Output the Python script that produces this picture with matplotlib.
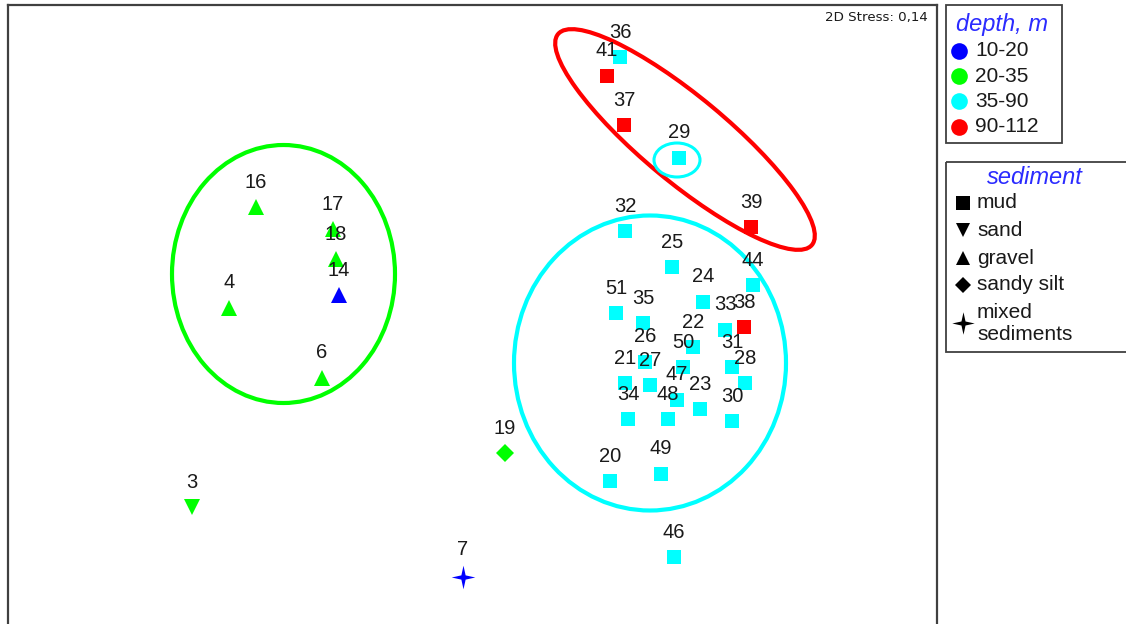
import numpy as np
import matplotlib
matplotlib.use("Agg")
import matplotlib.pyplot as plt
from matplotlib.patches import Ellipse, Rectangle
from matplotlib.path import Path

# ---------------- data (ordination coordinates) ----------------
sample_ids = ["3", "4", "6", "7", "14", "16", "17", "18", "19", "20", "21", "22", "23",
              "24", "25", "26", "27", "28", "29", "30", "31", "32", "33", "34", "35",
              "36", "37", "38", "39", "41", "44", "46", "47", "48", "49", "50", "51"]
axis1 = [192, 229, 322, 463, 339, 256, 333, 336, 505, 610, 625, 693, 700,
         703, 672, 645, 650, 745, 679, 732, 732, 625, 725, 628, 643,
         620, 624, 744, 751, 607, 753, 674, 677, 668, 661, 683, 616]
axis2 = [507, 308, 378, 577, 295, 207, 229, 259, 453, 481, 383, 347, 409,
         302, 267, 362, 385, 383, 158, 421, 367, 231, 330, 419, 323,
         57, 125, 327, 227, 76, 285, 557, 400, 419, 474, 367, 313]
depth = ["20-35", "20-35", "20-35", "10-20", "10-20", "20-35", "20-35", "20-35", "20-35",
         "35-90", "35-90", "35-90", "35-90", "35-90", "35-90", "35-90", "35-90", "35-90",
         "35-90", "35-90", "35-90", "35-90", "35-90", "35-90", "35-90", "35-90",
         "90-112", "90-112", "90-112", "90-112", "35-90", "35-90", "35-90", "35-90",
         "35-90", "35-90", "35-90"]
sediment = ["sand", "gravel", "gravel", "mixed sediments", "gravel", "gravel", "gravel",
            "gravel", "sandy silt"] + ["mud"] * 28

depth_classes = ["10-20", "20-35", "35-90", "90-112"]
depth_colors = ["#0000FF", "#00FF00", "#00FFFF", "#FF0000"]
sediment_classes = ["mud", "sand", "gravel", "sandy silt", "mixed sediments"]
sediment_labels = ["mud", "sand", "gravel", "sandy silt", "mixed\nsediments"]

# group ellipses: (centre x, centre y, width, height, angle, colour)
ellipse_cx = [283.5, 650, 685, 677]
ellipse_cy = [274, 363, 139.5, 160]
ellipse_w = [223, 272, 330, 46]
ellipse_h = [258, 295, 85, 34]
ellipse_angle = [0, 0, 39.7, 0]
ellipse_color = ["#00FF00", "#00FFFF", "#FF0000", "#00FFFF"]
ellipse_lw = [3.0, 3.0, 3.0, 2.2]

stress_text = "2D Stress: 0,14"

# ---------------- style ----------------
star_verts = [(0, 1), (0.18, 0.18), (1, 0), (0.18, -0.18), (0, -1),
              (-0.18, -0.18), (-1, 0), (-0.18, 0.18), (0, 1)]
star_marker = Path(star_verts, closed=True)
sed_marker = {"mud": "s", "sand": "v", "gravel": "^", "sandy silt": "D",
              "mixed sediments": star_marker}
sed_size = {"mud": 10, "sand": 11, "gravel": 11, "sandy silt": 9,
            "mixed sediments": 17}
depth_col = dict(zip(depth_classes, depth_colors))

W, H, DPI = 1126, 624, 100
fig = plt.figure(figsize=(W / DPI, H / DPI), dpi=DPI)
fig.patch.set_facecolor("white")

left_px, right_px, top_px = 8, 937, 5
extra = 0.05
ax = fig.add_axes([left_px / W, -extra, (right_px - left_px) / W, 1 - top_px / H + extra])
ax.set_xlim(left_px, right_px)
ax.set_ylim(H + extra * H, top_px)
ax.set_xticks([])
ax.set_yticks([])
frame_col = "#404040"
for s in ["left", "right", "top"]:
    ax.spines[s].set_color(frame_col)
    ax.spines[s].set_linewidth(1.6)
ax.spines["bottom"].set_visible(False)

FONT = "Liberation Sans"

# ellipses
for cx, cy, w, h, a, c, lw in zip(ellipse_cx, ellipse_cy, ellipse_w, ellipse_h,
                                  ellipse_angle, ellipse_color, ellipse_lw):
    ax.add_patch(Ellipse((cx, cy), w, h, angle=a, fill=False, edgecolor=c, lw=lw, zorder=2))

# points
for sid, x, y, d, s in zip(sample_ids, axis1, axis2, depth, sediment):
    ax.plot([x], [y], linestyle="none", marker=sed_marker[s], markersize=sed_size[s],
            color=depth_col[d], markeredgewidth=0, zorder=3)

# labels
for sid, x, y, s in zip(sample_ids, axis1, axis2, sediment):
    off = 20 if s == "mixed sediments" else 18
    ax.annotate(sid, (x, y), xytext=(0, off), textcoords="offset points",
                ha="center", va="center", fontsize=14.5, family=FONT,
                color="#1a1a1a", zorder=4)

ax.text(928, 18, stress_text, ha="right", va="center", fontsize=9.6,
        family="DejaVu Sans", color="#1a1a1a")

# ---------------- legends (overlay in figure pixel space) ----------------
lax = fig.add_axes([0, 0, 1, 1], facecolor="none")
lax.set_xlim(0, W)
lax.set_ylim(H, 0)
lax.axis("off")

title_col = "#2b2bff"
# depth legend
lax.add_patch(Rectangle((945.5, 5), 116, 138, fill=False, edgecolor=frame_col, lw=1.3))
lax.text(1002, 25, "depth, m", ha="center", va="center", fontsize=17, style="italic",
         family=FONT, color=title_col)
for i, (lab, col) in enumerate(zip(depth_classes, depth_colors)):
    yy = 51 + i * 25.2
    lax.plot([959], [yy], marker="o", markersize=12, color=col, markeredgewidth=0,
             linestyle="none")
    lax.text(975, yy, lab, ha="left", va="center", fontsize=15, family=FONT, color="#1a1a1a")

# sediment legend
lax.add_patch(Rectangle((945.5, 161.5), 200, 190.5, fill=False, edgecolor=frame_col,
                        lw=1.3, clip_on=False))
lax.text(1035, 178, "sediment", ha="center", va="center", fontsize=17, style="italic",
         family=FONT, color=title_col)
sed_y = [203, 230, 258, 285, 323]
for cls, lab, yy in zip(sediment_classes, sediment_labels, sed_y):
    lax.plot([963], [yy], marker=sed_marker[cls], markersize=sed_size[cls] * 0.95,
             color="black", markeredgewidth=0, linestyle="none")
    lax.text(977, yy, lab, ha="left", va="center", fontsize=15, family=FONT,
             color="#1a1a1a", linespacing=1.2)

fig.savefig("out.png", dpi=DPI, facecolor="white")
